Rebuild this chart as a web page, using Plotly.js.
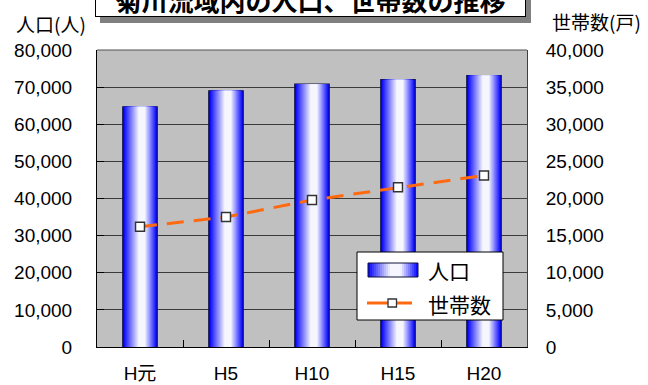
<!DOCTYPE html>
<html>
<head>
<meta charset="utf-8">
<script src="https://cdn.plot.ly/plotly-3.0.1.min.js"></script>
<style>
  html, body { margin: 0; padding: 0; background: #fff; }
  #chart { width: 648px; height: 385px; }
</style>
</head>
<body>
<div id="chart"></div>
<script>
// 菊川流域内の人口・世帯数
const categories = ['H元', 'H5', 'H10', 'H15', 'H20'];
const population = [64700, 69000, 70800, 72000, 73100];   // 人口(人)
const households = [16200, 17500, 19800, 21500, 23100];   // 世帯数(戸)
const popTicks = [0, 10000, 20000, 30000, 40000, 50000, 60000, 70000, 80000];
const hhTicks = [0, 5000, 10000, 15000, 20000, 25000, 30000, 35000, 40000];

const W = 648, H = 385;
const M = { l: 97, r: 121, t: 50, b: 38 };
const plotW = W - M.l - M.r, plotH = H - M.t - M.b;
const px = x => (x - M.l) / plotW;          // pixel -> paper x
const py = y => (H - M.b - y) / plotH;      // pixel -> paper y

const FONT = 'Liberation Sans, Arial, Noto Sans CJK JP, sans-serif';
const JFONT = 'Noto Sans CJK JP, sans-serif';

// cylinder-style shading: blue at the edges, near white a little right of centre
const BLUE = [0, 0, 255], WHITE = [246, 246, 255];
function shade(t) {
  const c = BLUE.map((b, i) => Math.round(b + (WHITE[i] - b) * t));
  return `rgb(${c[0]},${c[1]},${c[2]})`;
}
const BAR_W = 0.4, LIT_A = 0.45, LIT_B = 0.65, LAYERS = 16;

const traces = [];
for (let k = 0; k < LAYERS; k++) {
  const t = k / (LAYERS - 1);
  const left = LIT_A * t, right = 1 - (1 - LIT_B) * t;
  traces.push({
    type: 'bar',
    x: categories,
    y: population,
    width: BAR_W * (right - left),
    offset: -BAR_W / 2 + BAR_W * left,
    marker: {
      color: shade(t),
      line: k === 0 ? { color: '#10103a', width: 1.2 } : { width: 0 }
    },
    showlegend: false,
    hoverinfo: 'skip'
  });
}
traces.push({
  type: 'scatter',
  mode: 'lines+markers',
  x: categories,
  y: households,
  yaxis: 'y2',
  line: { color: '#ff6a10', width: 3, dash: '17px,10px' },
  marker: { symbol: 'square', size: 9, color: '#ffffff', line: { color: '#333333', width: 1.5 } },
  showlegend: false,
  hoverinfo: 'skip'
});

// legend drawn by hand: framed box, shaded bar swatch, line sample
const shapes = [
  { type: 'line', xref: 'paper', yref: 'paper', x0: 0, x1: 1, y0: 1, y1: 1,
    line: { color: '#505050', width: 1 } },
  { type: 'rect', xref: 'paper', yref: 'paper', x0: px(357), x1: px(503), y0: py(252), y1: py(320),
    fillcolor: '#ffffff', line: { color: '#000000', width: 1 } }
];
const SW0 = 368, SW1 = 418, SLICES = 25;
for (let i = 0; i < SLICES; i++) {
  const f = (i + 0.5) / SLICES;
  let t = f < LIT_A ? f / LIT_A : (f > LIT_B ? (1 - f) / (1 - LIT_B) : 1);
  shapes.push({ type: 'rect', xref: 'paper', yref: 'paper',
    x0: px(SW0 + (SW1 - SW0) * i / SLICES), x1: px(SW0 + (SW1 - SW0) * (i + 1) / SLICES),
    y0: py(263), y1: py(277), fillcolor: shade(t), line: { width: 0 } });
}
shapes.push({ type: 'rect', xref: 'paper', yref: 'paper', x0: px(SW0), x1: px(SW1), y0: py(263), y1: py(277),
  line: { color: '#10103a', width: 1 } });
shapes.push({ type: 'line', xref: 'paper', yref: 'paper', x0: px(367), x1: px(412), y0: py(303), y1: py(303),
  line: { color: '#ff6a10', width: 3 } });
shapes.push({ type: 'rect', xref: 'paper', yref: 'paper', x0: px(388), x1: px(396.5), y0: py(299), y1: py(307),
  fillcolor: '#ffffff', line: { color: '#333333', width: 1.3 } });

const TITLE = '菊川流域内の人口、世帯数の推移';
const annotations = [
  // drop shadow behind the title box
  { xref: 'paper', yref: 'paper', x: px(310.5), y: py(17), xanchor: 'center', yanchor: 'bottom',
    text: ' ', showarrow: false, width: 429, height: 34, xshift: 5, yshift: -6,
    font: { family: JFONT, size: 26, color: '#808080' },
    bgcolor: '#808080', bordercolor: '#808080', borderwidth: 1, borderpad: 0 },
  { xref: 'paper', yref: 'paper', x: px(310.5), y: py(17), xanchor: 'center', yanchor: 'bottom',
    text: TITLE, showarrow: false, width: 429, height: 34,
    font: { family: JFONT, size: 26, color: '#000000', weight: 'bold' },
    bgcolor: '#ffffff', bordercolor: '#000000', borderwidth: 1, borderpad: 0 },
  { xref: 'paper', yref: 'paper', x: px(51), y: py(23), xanchor: 'center', yanchor: 'middle',
    text: '人口(人)', showarrow: false, font: { family: JFONT, size: 19, color: '#000' } },
  { xref: 'paper', yref: 'paper', x: px(596), y: py(22), xanchor: 'center', yanchor: 'middle',
    text: '世帯数(戸)', showarrow: false, font: { family: JFONT, size: 19, color: '#000' } },
  { xref: 'paper', yref: 'paper', x: px(426), y: py(270), xanchor: 'left', yanchor: 'middle',
    text: '人口', showarrow: false, font: { family: JFONT, size: 21, color: '#000' } },
  { xref: 'paper', yref: 'paper', x: px(426), y: py(304), xanchor: 'left', yanchor: 'middle',
    text: '世帯数', showarrow: false, font: { family: JFONT, size: 21, color: '#000' } }
];

const layout = {
  width: W, height: H,
  margin: M,
  paper_bgcolor: '#ffffff',
  plot_bgcolor: '#c0c0c0',
  barmode: 'overlay',
  showlegend: false,
  font: { family: FONT, size: 19, color: '#000' },
  xaxis: {
    type: 'category',
    showline: true, linecolor: '#000', linewidth: 1,
    ticks: 'inside', ticklen: 7, tickcolor: '#000', tickson: 'boundaries',
    showgrid: false, zeroline: false,
    ticklabelstandoff: 9,
    tickfont: { family: FONT, size: 19, color: '#000' }
  },
  yaxis: {
    range: [0, 80000], tickvals: popTicks, tickformat: ',d',
    showline: true, linecolor: '#000', linewidth: 1,
    ticks: 'inside', ticklen: 7, tickcolor: '#000',
    showgrid: true, gridcolor: '#3a3a3a', gridwidth: 1,
    zeroline: false,
    ticklabelstandoff: 20,
    tickfont: { family: FONT, size: 19, color: '#000' }
  },
  yaxis2: {
    overlaying: 'y', side: 'right',
    range: [0, 40000], tickvals: hhTicks, tickformat: ',d',
    showline: true, linecolor: '#404040', linewidth: 1,
    ticks: 'inside', ticklen: 7, tickcolor: '#404040',
    showgrid: false, zeroline: false,
    ticklabelstandoff: 14,
    tickfont: { family: FONT, size: 19, color: '#000' }
  },
  shapes: shapes,
  annotations: annotations
};

Plotly.newPlot('chart', traces, layout, { staticPlot: true, displayModeBar: false });
</script>
</body>
</html>
